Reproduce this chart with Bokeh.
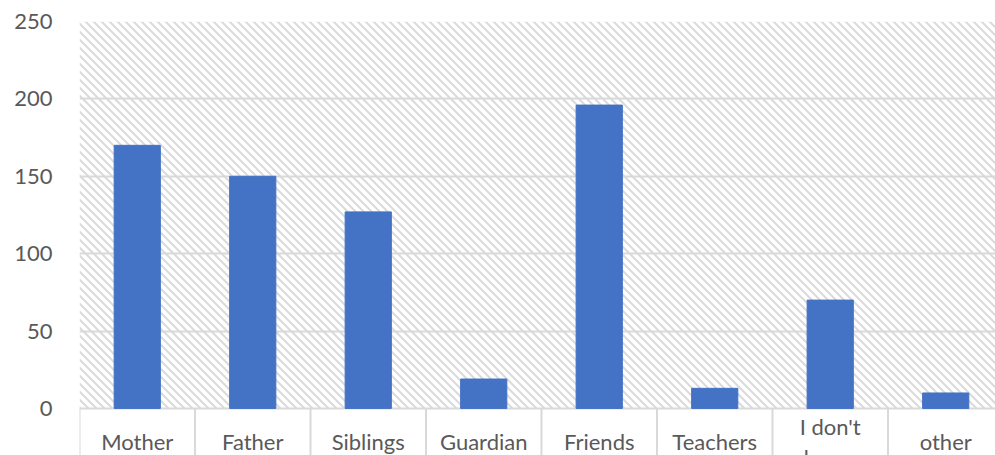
import base64
from bokeh.plotting import figure
from bokeh.models import Range1d, FixedTicker, BoxAnnotation, ColumnDataSource, ImageURLTexture
from bokeh.core.properties import value
from bokeh.embed import file_html
from bokeh.resources import INLINE

categories = ["Mother", "Father", "Siblings", "Guardian", "Friends", "Teachers", "I don't\nknow", "other"]
values = [170, 150, 127, 19, 196, 13, 70, 10]
y_ticks = [0, 50, 100, 150, 200, 250]

FONT = "Lato"
TXT = "#595959"
GRID = "#d9d9d9"

n = len(categories)
xs = [i + 0.5 for i in range(n)]
bounds = list(range(n + 1))
Y_MIN = -30.4
LABEL_Y = -21.5

src = ColumnDataSource(dict(x=xs, top=values))
lab = ColumnDataSource(dict(x=xs, y=[LABEL_Y] * n, text=categories))
sep = ColumnDataSource(dict(x=bounds, y0=[0] * len(bounds), y1=[Y_MIN] * len(bounds)))

tile_svg = ("<svg xmlns='http://www.w3.org/2000/svg' width='8' height='8'>"
            "<path d='M0,0 L8,8 M-4,4 L4,12 M4,-4 L12,4' stroke='#dadada' stroke-width='2'/></svg>")
tile_url = "data:image/svg+xml;base64," + base64.b64encode(tile_svg.encode()).decode()

p = figure(frame_width=916, frame_height=434, output_backend="svg", toolbar_location=None,
           x_range=Range1d(0, 7.931), y_range=Range1d(Y_MIN, 250),
           min_border_left=79, min_border_right=0, min_border_top=21, min_border_bottom=0)
p.outline_line_color = None
p.background_fill_color = "white"
p.border_fill_color = "white"
p.xaxis.visible = False

hatch = BoxAnnotation(bottom=0, fill_color="white", fill_alpha=1.0, line_color=None,
                      hatch_pattern="diag", hatch_extra={"diag": ImageURLTexture(url=tile_url, repetition="repeat")},
                      level="image")
p.add_layout(hatch)

p.xgrid.visible = False
p.ygrid.ticker = FixedTicker(ticks=y_ticks)
p.ygrid.grid_line_color = GRID
p.ygrid.grid_line_width = 2

p.vbar(x="x", top="top", width=0.4, bottom=0, source=src, color="#4472C4")

p.segment(x0="x", y0="y0", x1="x", y1="y1", source=sep, line_color=GRID, line_width=2)

p.text(x="x", y="y", text="text", source=lab, text_align="center", text_baseline="middle",
       text_font=value(FONT), text_font_size="22px", text_color=TXT, text_line_height=1.15)

p.yaxis.ticker = FixedTicker(ticks=y_ticks)
p.yaxis.axis_line_color = None
p.yaxis.major_tick_line_color = None
p.yaxis.minor_tick_line_color = None
p.yaxis.major_label_text_font = FONT
p.yaxis.major_label_text_font_size = "22px"
p.yaxis.major_label_text_color = TXT
p.yaxis.major_label_standoff = 21

open("out.html", "w").write(file_html(p, INLINE))
